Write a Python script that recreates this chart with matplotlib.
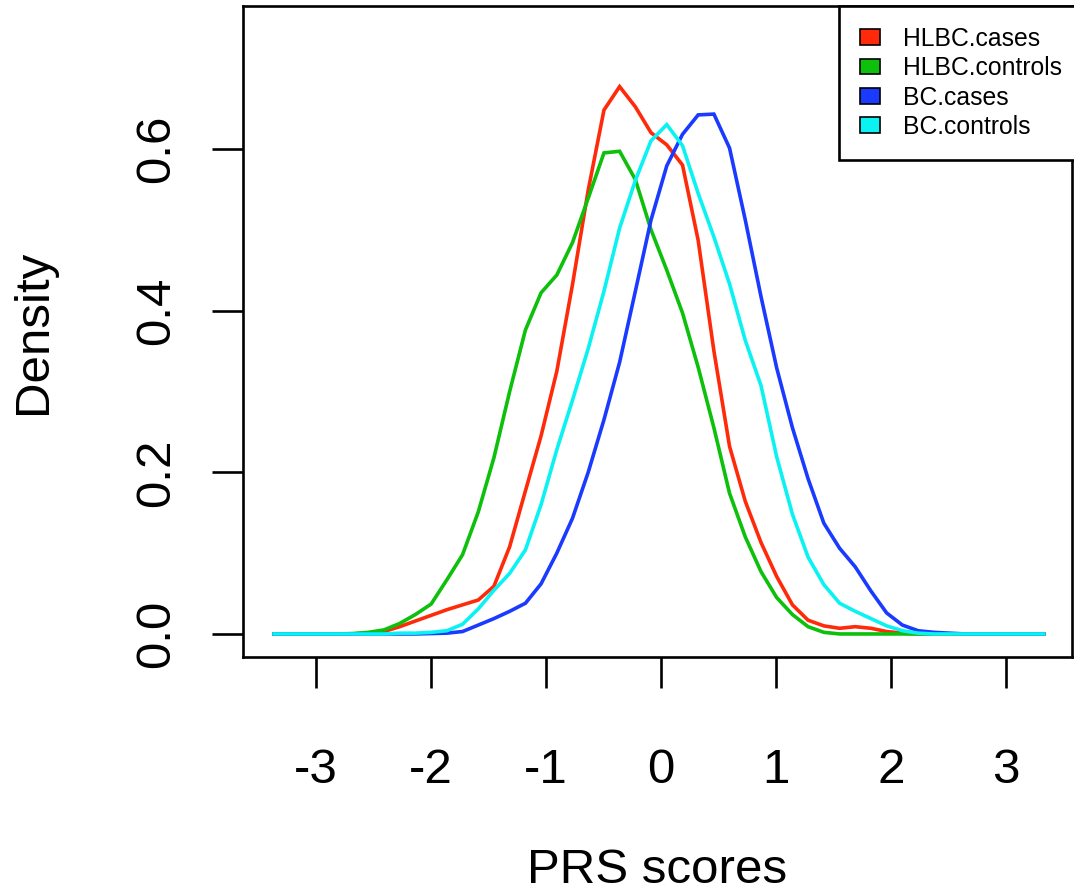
import matplotlib
matplotlib.use("Agg")
import matplotlib.pyplot as plt
from matplotlib.patches import Patch

plt.rcParams['font.family'] = ['Liberation Sans', 'DejaVu Sans']

# Density evaluation grid (PRS score) shared by all four groups
prs_grid = [-3.365, -3.228, -3.092, -2.955, -2.819, -2.682, -2.545, -2.409, -2.272, -2.136,
            -1.999, -1.862, -1.726, -1.589, -1.453, -1.316, -1.179, -1.043, -0.906, -0.770,
            -0.633, -0.496, -0.360, -0.223, -0.087, 0.050, 0.187, 0.323, 0.460, 0.596,
            0.733, 0.870, 1.006, 1.143, 1.279, 1.416, 1.553, 1.689, 1.826, 1.962,
            2.099, 2.236, 2.372, 2.509, 2.645, 2.782, 2.919, 3.055, 3.192, 3.328]

hlbc_cases = [0, 0, 0, 0, 0, 0, 0.001, 0.003, 0.009, 0.016,
              0.023, 0.030, 0.036, 0.042, 0.059, 0.108, 0.177, 0.245, 0.325, 0.432,
              0.549, 0.648, 0.677, 0.652, 0.620, 0.605, 0.580, 0.487, 0.350, 0.232,
              0.164, 0.113, 0.071, 0.036, 0.017, 0.010, 0.007, 0.009, 0.007, 0.003,
              0.001, 0, 0, 0, 0, 0, 0, 0, 0, 0]

hlbc_controls = [0, 0, 0, 0, 0, 0.0005, 0.002, 0.005, 0.013, 0.024,
                 0.037, 0.067, 0.098, 0.151, 0.218, 0.300, 0.376, 0.422, 0.444, 0.484,
                 0.539, 0.595, 0.597, 0.562, 0.500, 0.450, 0.397, 0.330, 0.255, 0.174,
                 0.120, 0.077, 0.045, 0.024, 0.009, 0.002, 0, 0, 0, 0,
                 0, 0, 0, 0, 0, 0, 0, 0, 0, 0]

bc_cases = [0, 0, 0, 0, 0, 0, 0, 0, 0, 0,
            0.0005, 0.001, 0.003, 0.011, 0.019, 0.028, 0.038, 0.062, 0.100, 0.143,
            0.200, 0.265, 0.336, 0.424, 0.512, 0.579, 0.618, 0.642, 0.643, 0.601,
            0.512, 0.417, 0.329, 0.255, 0.192, 0.137, 0.106, 0.083, 0.053, 0.026,
            0.011, 0.004, 0.002, 0.001, 0, 0, 0, 0, 0, 0]

bc_controls = [0, 0, 0, 0, 0, 0, 0, 0, 0.001, 0.001,
               0.002, 0.004, 0.012, 0.031, 0.054, 0.075, 0.104, 0.160, 0.228, 0.289,
               0.353, 0.424, 0.502, 0.561, 0.610, 0.630, 0.604, 0.545, 0.491, 0.433,
               0.363, 0.307, 0.219, 0.148, 0.095, 0.061, 0.038, 0.028, 0.019, 0.010,
               0.004, 0.001, 0, 0, 0, 0, 0, 0, 0, 0]

group_names = ["HLBC.cases", "HLBC.controls", "BC.cases", "BC.controls"]
group_colors = ["#FF2A0A", "#0CC00C", "#1A3BFF", "#0AF2F2"]
series = [hlbc_cases, hlbc_controls, bc_cases, bc_controls]

x_ticks = [-3, -2, -1, 0, 1, 2, 3]
y_ticks = [0.0, 0.2, 0.4, 0.6]
y_tick_labels = ["0.0", "0.2", "0.4", "0.6"]

fig = plt.figure(figsize=(10.74, 8.96), dpi=100)
ax = fig.add_axes([243 / 1074, (896 - 657) / 896, (1072 - 243) / 1074, (657 - 6) / 896])

for vals, col in zip(series, group_colors):
    ax.plot(prs_grid, vals, color=col, lw=2.6, solid_joinstyle='miter')

ax.set_xlim(-3.635, 3.574)
ax.set_ylim(-0.0285, 0.7767)

ax.set_xticks(x_ticks)
ax.set_xticklabels([str(t) for t in x_ticks])
ax.set_yticks(y_ticks)
ax.set_yticklabels(y_tick_labels)
ax.tick_params(axis='both', direction='out', length=22.3, width=1.9, labelsize=35.5,
               color='black')
ax.tick_params(axis='x', pad=43)
ax.tick_params(axis='y', pad=24)
for lab in ax.get_yticklabels():
    lab.set_rotation(90)
    lab.set_va('center')

for sp in ax.spines.values():
    sp.set_linewidth(1.9)
    sp.set_color('black')

ax.set_xlabel("PRS scores", fontsize=35.5)
ax.xaxis.set_label_coords(0.5, (657 - 870) / 651)
ax.xaxis.label.set_va('center')
ax.set_ylabel("Density", fontsize=35.5)
ax.yaxis.set_label_coords((34 - 243) / 829, 0.5)
ax.yaxis.label.set_va('center')

# legend flush with the top-right corner; its right frame edge sits past the canvas
handles = [Patch(facecolor=c, edgecolor='black', linewidth=1.2) for c in group_colors]
leg = ax.legend(handles, group_names, loc='upper right', fontsize=17.8,
                bbox_to_anchor=(1 + 11 / 829, 1.0),
                frameon=True, fancybox=False, edgecolor='black', framealpha=1,
                borderaxespad=0, handlelength=0.8, handleheight=0.6,
                handletextpad=0.93, borderpad=0.85, labelspacing=0.215)
leg.get_frame().set_linewidth(1.9)
leg.set_clip_on(False)

fig.savefig("out.png", dpi=100)
